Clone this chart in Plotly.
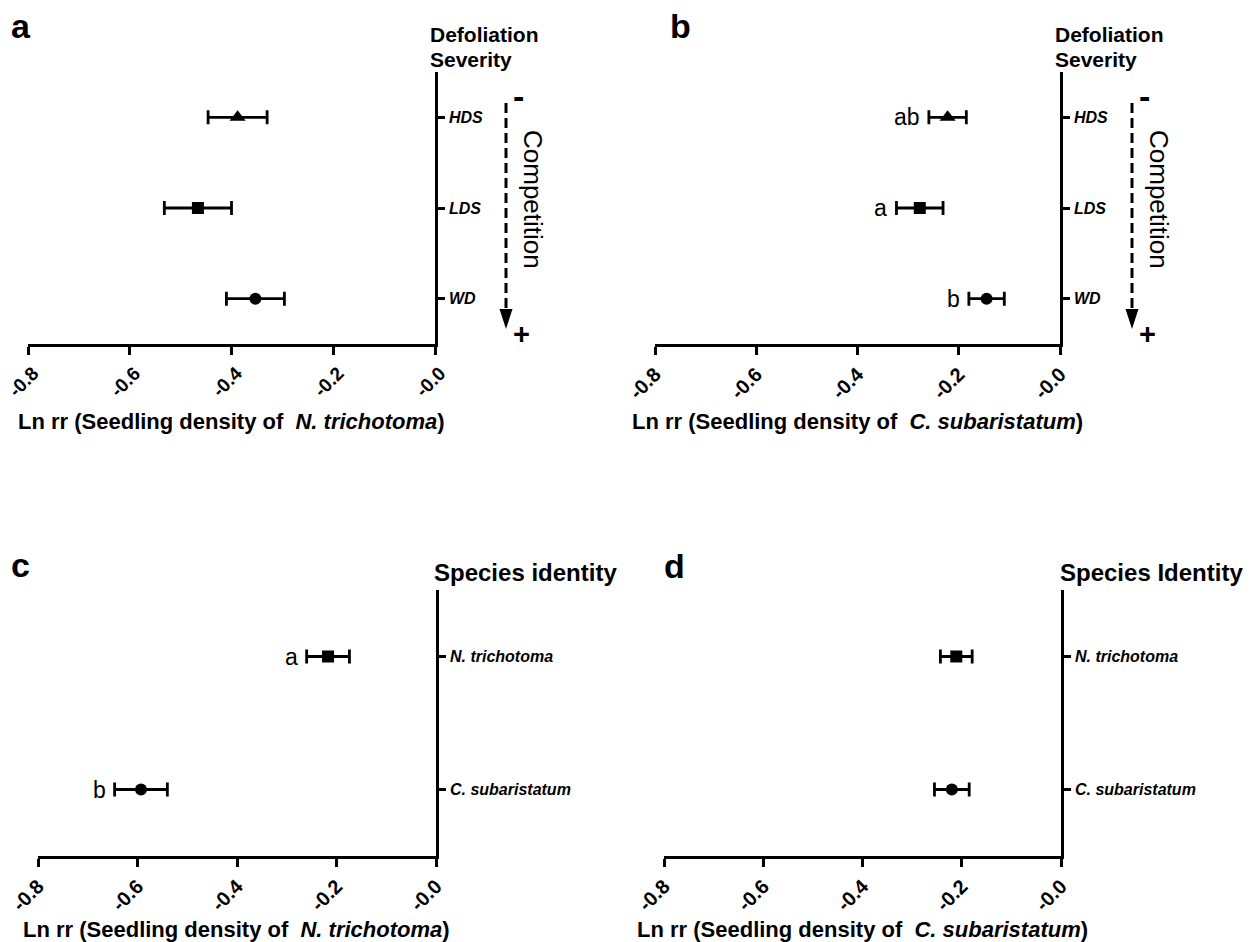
import plotly.graph_objects as go

# ---------------- data ----------------
sev_categories = ["WD", "LDS", "HDS"]
sev_symbols = ["circle", "square", "triangle-up"]
sev_sizes = [12, 12, 14]
a_mean = [-0.353, -0.466, -0.388]
a_err = [0.057, 0.066, 0.058]
b_mean = [-0.145, -0.277, -0.222]
b_err = [0.035, 0.046, 0.037]
b_letters = ["b", "a", "ab"]

species_categories = ["C. subaristatum", "N. trichotoma"]
species_symbols = ["circle", "square"]
species_sizes = [12, 12]
c_mean = [-0.593, -0.217]
c_err = [0.053, 0.043]
c_letters = ["b", "a"]
d_mean = [-0.220, -0.211]
d_err = [0.035, 0.032]

x_tickvals = [-0.8, -0.6, -0.4, -0.2, 0.0]
x_ticktext = ["-0.8", "-0.6", "-0.4", "-0.2", "-0.0"]

panel_labels = ["a", "b", "c", "d"]
x_titles = [
    "<b>Ln rr (Seedling density of  <i>N. trichotoma</i>)</b>",
    "<b>Ln rr (Seedling density of  <i>C. subaristatum</i>)</b>",
    "<b>Ln rr (Seedling density of  <i>N. trichotoma</i>)</b>",
    "<b>Ln rr (Seedling density of  <i>C. subaristatum</i>)</b>",
]

# ---------------- layout helpers ----------------
# the page body has an 8px margin, so the figure is offset by 8px
OFF = 8
W, H = 1256 - OFF, 942 - OFF
FONT = "Liberation Sans, Arial, Helvetica, sans-serif"


def fx(p):
    return (p - OFF) / W


def fy(p):
    return 1 - (p - OFF) / H


# plot areas in window pixels: (x0, x1, ytop, ybottom, title_gap, label_shift, tick_size)
areas = [
    (28, 435, 72, 344, 77, 5, 19),
    (655, 1060, 72, 344, 77, 0, 20),
    (38, 436, 590, 856, 73, 0, 20),
    (664, 1061, 590, 856, 73, 0, 20),
]

fig = go.Figure()

panels = [
    (a_mean, a_err, sev_categories, sev_symbols, sev_sizes),
    (b_mean, b_err, sev_categories, sev_symbols, sev_sizes),
    (c_mean, c_err, species_categories, species_symbols, species_sizes),
    (d_mean, d_err, species_categories, species_symbols, species_sizes),
]

for i, (means, errs, cats, syms, sizes) in enumerate(panels):
    n = i + 1
    xa = "x" if n == 1 else f"x{n}"
    ya = "y" if n == 1 else f"y{n}"
    fig.add_trace(go.Scatter(
        x=means, y=cats, xaxis=xa, yaxis=ya, mode="markers",
        marker=dict(symbol=syms, size=sizes, color="#000000", opacity=1,
                    line=dict(width=0)),
        error_x=dict(type="data", array=errs, visible=True, color="#000000",
                     thickness=2.8, width=7),
        showlegend=False, hoverinfo="x+y",
    ))
    x0, x1, yt, yb, _, lshift, tsize = areas[i]
    xkey = "xaxis" if n == 1 else f"xaxis{n}"
    ykey = "yaxis" if n == 1 else f"yaxis{n}"
    fig.update_layout({
        xkey: dict(
            domain=[fx(x0), fx(x1)], anchor=ya, range=[-0.8, 0.0],
            tickvals=x_tickvals, ticktext=x_ticktext, tickangle=-45,
            ticks="outside", ticklen=8, tickwidth=2.5, tickcolor="black",
            showline=True, linewidth=2.5, linecolor="black",
            showgrid=False, zeroline=False, automargin=False,
            ticklabeloverflow="allow", ticklabelshift=lshift,
            tickfont=dict(family=FONT, size=tsize, color="black", weight="bold"),
        ),
        ykey: dict(
            domain=[fy(yb), fy(yt)], anchor=xa, side="right",
            type="category", categoryorder="array", categoryarray=cats,
            range=[-0.5, len(cats) - 0.5],
            ticks="outside", ticklen=7, tickwidth=2.5, tickcolor="black",
            showline=True, linewidth=2.5, linecolor="black",
            showgrid=False, zeroline=False, automargin=False,
            ticklabelstandoff=1, ticklabeloverflow="allow",
            tickfont=dict(family=FONT, size=16, color="black",
                          weight="bold", style="italic"),
        ),
    })

annotations = []


def txt(text, x, y, size, xanchor="center", yanchor="middle", bold=False,
        angle=0, xref="paper", yref="paper", xshift=0):
    annotations.append(dict(
        text=text, x=x, y=y, xref=xref, yref=yref, showarrow=False,
        xanchor=xanchor, yanchor=yanchor, textangle=angle, xshift=xshift,
        font=dict(family=FONT, size=size, color="black",
                  weight="bold" if bold else "normal"),
    ))


# panel letters
label_pos = [(21, 26), (680, 26), (20, 565), (674, 566)]
for lab, (px_, py_) in zip(panel_labels, label_pos):
    txt(lab, fx(px_), fy(py_), 34, bold=True)

# x-axis titles
for i, t in enumerate(x_titles):
    x0, x1, yt, yb, gap, _, _ = areas[i]
    txt(t, fx((x0 + x1) / 2), fy(yb + gap), 22)

# right-side headings
for left in (428, 1053):
    txt("Defoliation", fx(left), fy(35), 21, xanchor="left", bold=True)
    txt("Severity", fx(left), fy(60), 21, xanchor="left", bold=True)
txt("Species identity", fx(432), fy(572), 24, xanchor="left", bold=True)
txt("Species Identity", fx(1058), fy(572), 24, xanchor="left", bold=True)

# significance letters
for m, e, c, l in zip(b_mean, b_err, sev_categories, b_letters):
    txt(l, m - e, c, 23, xanchor="right", xref="x2", yref="y2", xshift=-7)
for m, e, c, l in zip(c_mean, c_err, species_categories, c_letters):
    txt(l, m - e, c, 23, xanchor="right", xref="x3", yref="y3", xshift=-7)

# competition arrows (panels a and b)
shapes = []
for ax in (506, 1132):
    shapes.append(dict(type="line", xref="paper", yref="paper",
                       x0=fx(ax), x1=fx(ax), y0=fy(103), y1=fy(312),
                       line=dict(color="black", width=3, dash="10px,5px")))
    shapes.append(dict(type="path", xref="paper", yref="paper",
                       path=f"M {fx(ax-6.5)},{fy(309)} L {fx(ax+6.5)},{fy(309)} "
                            f"L {fx(ax)},{fy(329)} Z",
                       fillcolor="black", line=dict(color="black", width=0)))
    txt("-", fx(ax + 12), fy(96), 34, bold=True)
    txt("+", fx(ax + 15), fy(334), 29, bold=True)
    txt("Competition", fx(ax + 27), fy(199), 26, angle=90)

fig.update_layout(
    width=W, height=H, autosize=False,
    margin=dict(l=0, r=0, t=0, b=0, autoexpand=False),
    paper_bgcolor="white", plot_bgcolor="white",
    annotations=annotations, shapes=shapes,
    font=dict(family=FONT, color="black"),
)

fig.write_html("out.html")
